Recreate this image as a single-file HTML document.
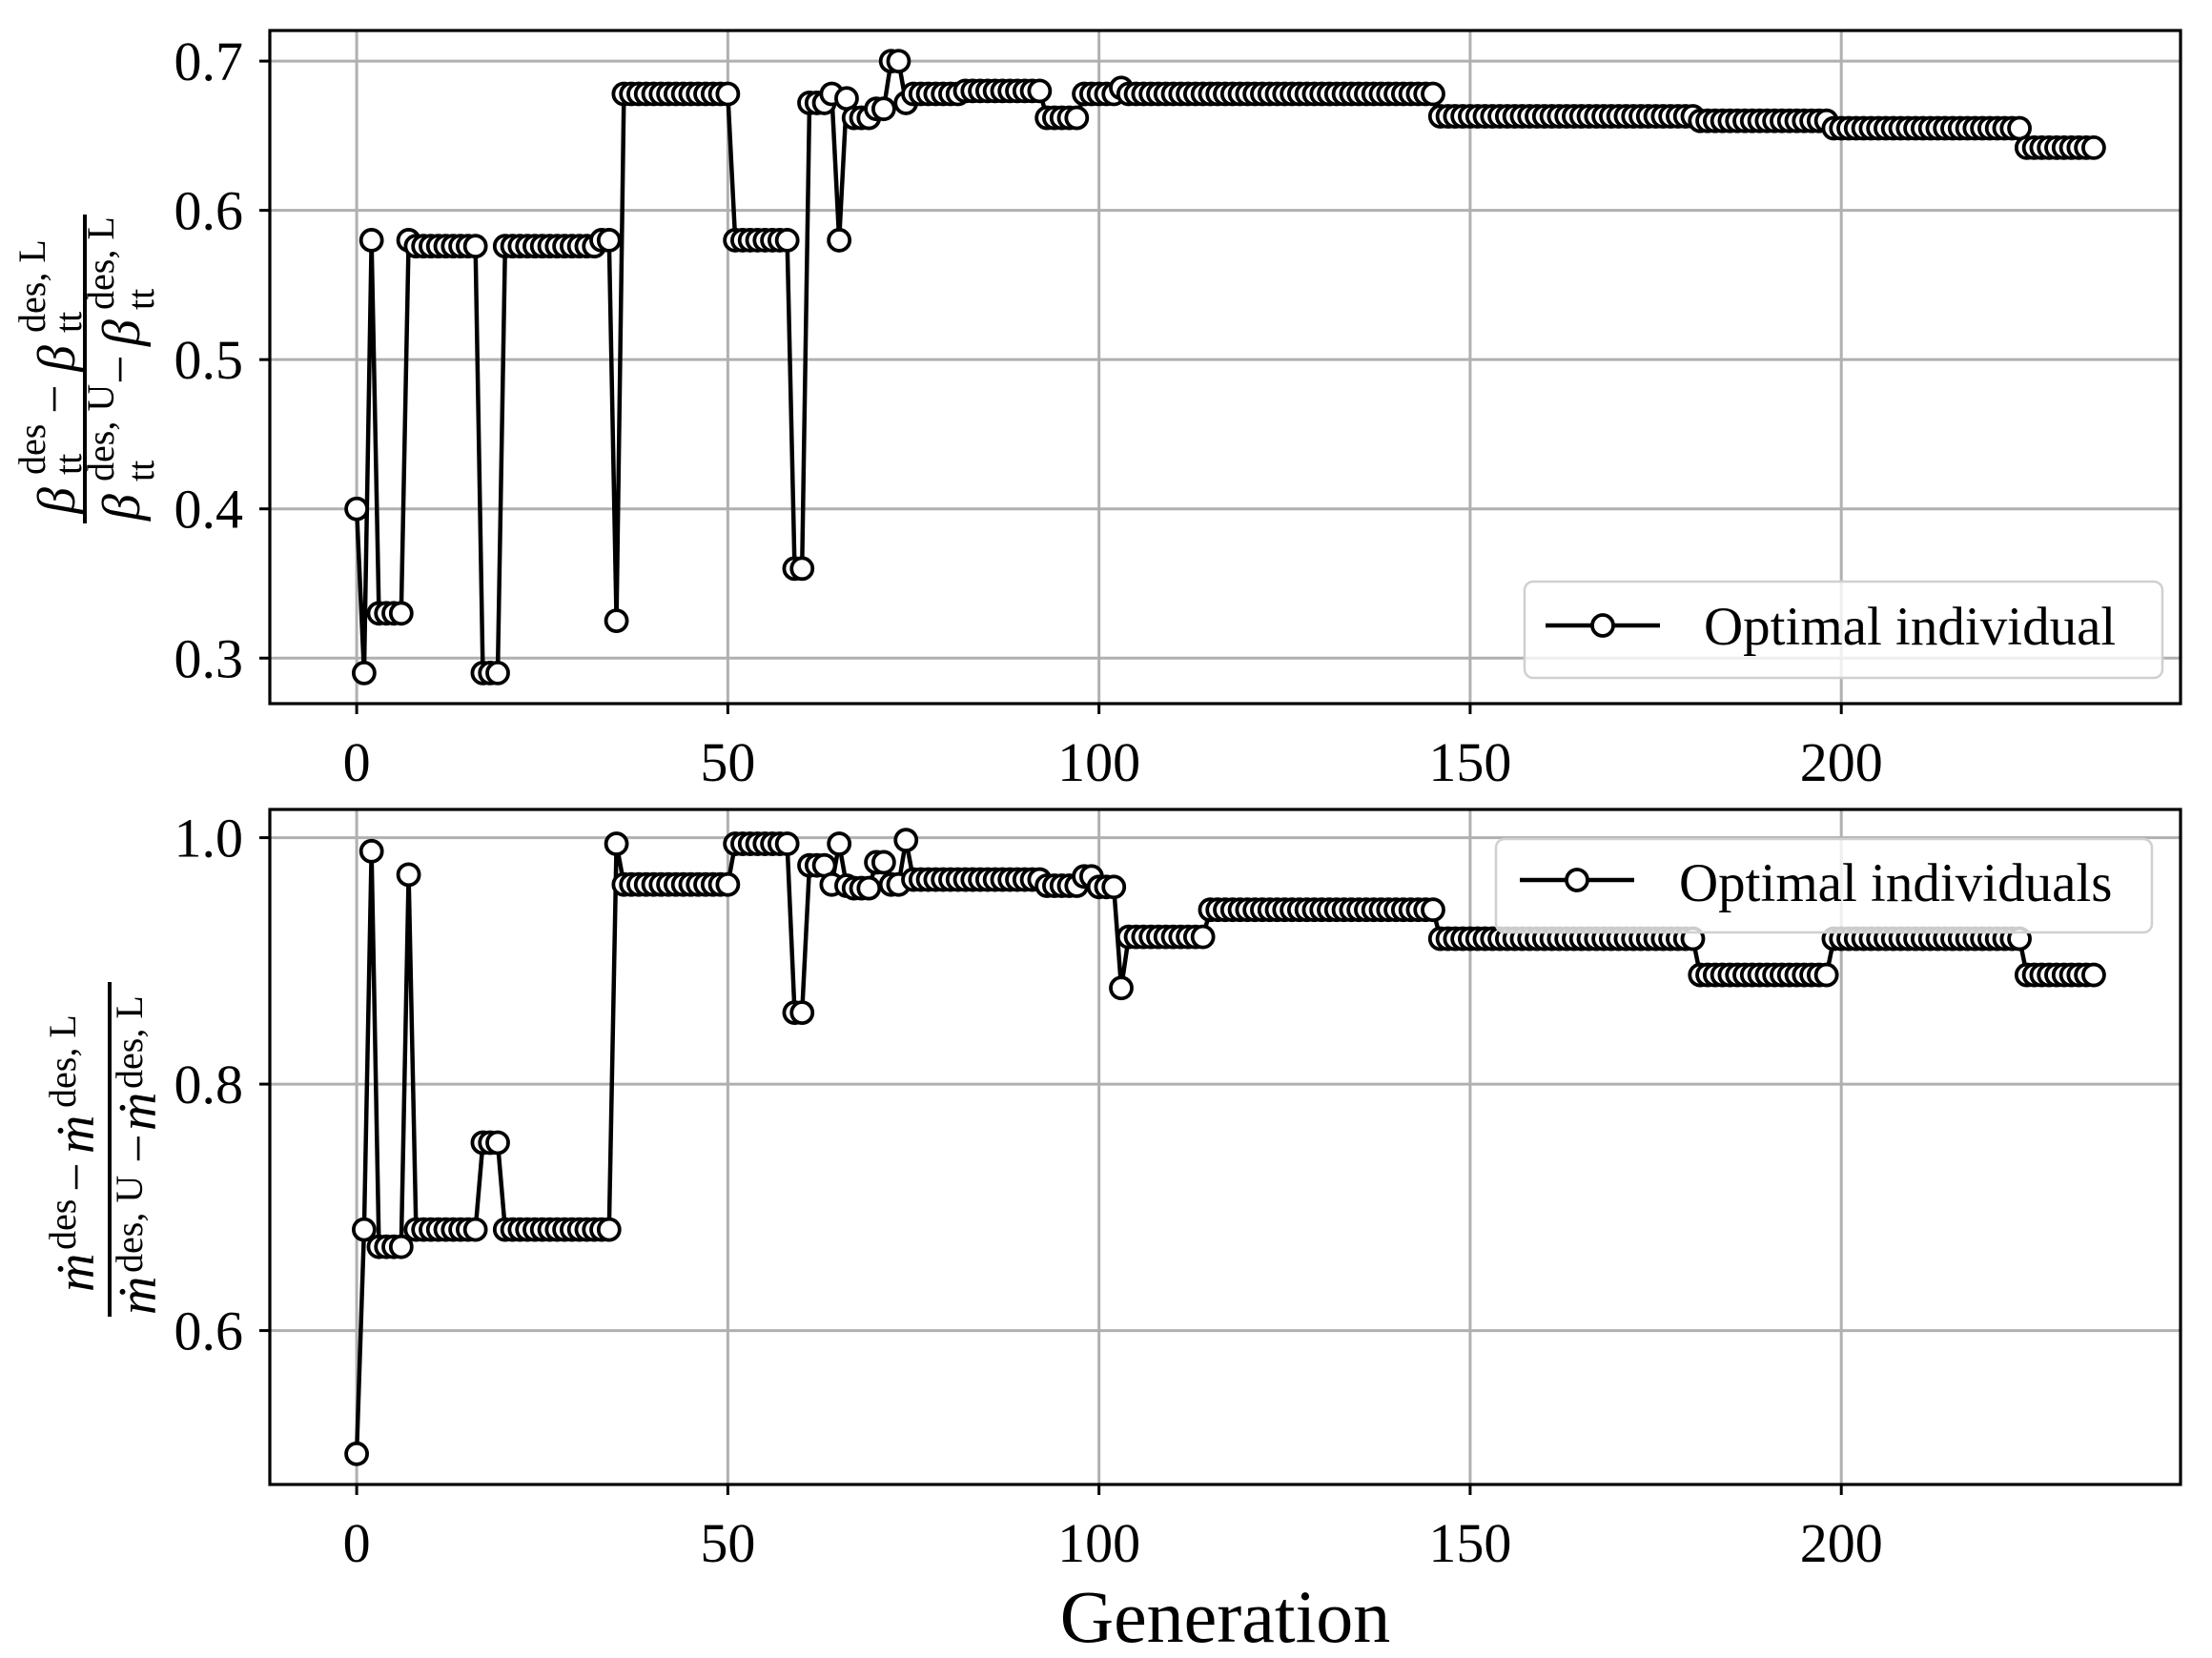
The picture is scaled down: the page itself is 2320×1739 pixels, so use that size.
<!DOCTYPE html>
<html><head><meta charset="utf-8"><style>
html,body{margin:0;padding:0;background:#fff;}
svg{display:block;font-family:"Liberation Serif",serif;}
</style></head><body>
<svg id="chart" width="2320" height="1739" viewBox="0 0 2320 1739" xmlns="http://www.w3.org/2000/svg">
<rect x="0" y="0" width="2320" height="1739" fill="#fff"/>
<g id="top-plot"></g>
<g id="bottom-plot"></g>

<g transform="translate(89,387) rotate(-90)" font-family="Liberation Serif, serif">
  <line x1="-162" y1="0" x2="162" y2="0" stroke="#000" stroke-width="4"/>
  <text x="-152" y="-11" font-size="56" font-style="italic">β</text>
  <text x="-111" y="-42" font-size="40">des</text>
  <text x="-111" y="-4" font-size="40">tt</text>
  <text x="-47" y="-14" font-size="54">−</text>
  <text x="-3" y="-11" font-size="56" font-style="italic">β</text>
  <text x="38" y="-42" font-size="40">des, L</text>
  <text x="38" y="-4" font-size="40">tt</text>
  <text x="-159" y="57" font-size="56" font-style="italic">β</text>
  <text x="-118" y="30" font-size="40">des, U</text>
  <text x="-118" y="72" font-size="40">tt</text>
  <text x="-16" y="55" font-size="54">−</text>
  <text x="24" y="57" font-size="56" font-style="italic">β</text>
  <text x="62" y="30" font-size="40">des, L</text>
  <text x="62" y="72" font-size="40">tt</text>
</g>
<g transform="translate(115,1205) rotate(-90)" font-family="Liberation Serif, serif">
  <line x1="-176" y1="0" x2="175" y2="0" stroke="#000" stroke-width="4"/>
  <text x="-150" y="-17" font-size="56" font-style="italic">ṁ</text>
  <text x="-106" y="-36" font-size="40">des</text>
  <text x="-45" y="-17" font-size="54">−</text>
  <text x="-5" y="-17" font-size="56" font-style="italic">ṁ</text>
  <text x="43" y="-36" font-size="40">des, L</text>
  <text x="-174" y="48" font-size="56" font-style="italic">ṁ</text>
  <text x="-130" y="34" font-size="40">des, U</text>
  <text x="-15" y="48" font-size="54">−</text>
  <text x="19" y="48" font-size="56" font-style="italic">ṁ</text>
  <text x="63" y="34" font-size="40">des, L</text>
</g>
<text x="1285" y="1722" font-size="78" text-anchor="middle">Generation</text>
</svg>
<script>
const topValues = [
0.40,0.29,0.58,0.33,0.33,0.33,0.33,0.58,
0.576,0.576,0.576,0.576,0.576,0.576,0.576,0.576,0.576,
0.29,0.29,0.29,
0.576,0.576,0.576,0.576,0.576,0.576,0.576,0.576,0.576,0.576,0.576,0.576,0.576,
0.58,0.58,0.325,
0.678,0.678,0.678,0.678,0.678,0.678,0.678,0.678,0.678,0.678,0.678,0.678,0.678,0.678,0.678,
0.58,0.58,0.58,0.58,0.58,0.58,0.58,0.58,
0.36,0.36,0.672,0.672,0.672,0.678,0.58,0.675,0.662,0.662,0.662,0.668,0.668,0.70,0.70,0.672,
0.678,0.678,0.678,0.678,0.678,0.678,0.678,
0.68,0.68,0.68,0.68,0.68,0.68,0.68,0.68,0.68,0.68,0.68,
0.662,0.662,0.662,0.662,0.662,
0.678,0.678,0.678,0.678,0.678,
0.682,
0.678,0.678,0.678,0.678,0.678,0.678,0.678,0.678,0.678,0.678,
0.678,0.678,0.678,0.678,0.678,0.678,0.678,0.678,0.678,0.678,
0.678,0.678,0.678,0.678,0.678,0.678,0.678,0.678,0.678,0.678,
0.678,0.678,0.678,0.678,0.678,0.678,0.678,0.678,0.678,0.678,
0.678,0.678,
0.663,0.663,0.663,0.663,0.663,0.663,0.663,0.663,0.663,0.663,
0.663,0.663,0.663,0.663,0.663,0.663,0.663,0.663,0.663,0.663,
0.663,0.663,0.663,0.663,0.663,0.663,0.663,0.663,0.663,0.663,
0.663,0.663,0.663,0.663,0.663,
0.660,0.660,0.660,0.660,0.660,0.660,0.660,0.660,0.660,0.660,
0.660,0.660,0.660,0.660,0.660,0.660,0.660,0.660,
0.655,0.655,0.655,0.655,0.655,0.655,0.655,0.655,0.655,0.655,
0.655,0.655,0.655,0.655,0.655,0.655,0.655,0.655,0.655,0.655,
0.655,0.655,0.655,0.655,0.655,0.655,
0.642,0.642,0.642,0.642,0.642,0.642,0.642,0.642,0.642,0.642
];
const bottomValues = [
0.50,0.682,0.989,0.668,0.668,0.668,0.668,0.970,
0.682,0.682,0.682,0.682,0.682,0.682,0.682,0.682,0.682,
0.7525,0.7525,0.7525,
0.682,0.682,0.682,0.682,0.682,0.682,0.682,0.682,0.682,0.682,0.682,0.682,0.682,0.682,0.682,
0.995,
0.962,0.962,0.962,0.962,0.962,0.962,0.962,0.962,0.962,0.962,0.962,0.962,0.962,0.962,0.962,
0.995,0.995,0.995,0.995,0.995,0.995,0.995,0.995,
0.858,0.858,0.9775,0.9775,0.9775,0.962,0.995,0.961,0.959,0.959,0.959,0.98,0.98,0.962,0.962,0.998,
0.966,0.966,0.966,0.966,0.966,0.966,0.966,0.966,0.966,0.966,
0.966,0.966,0.966,0.966,0.966,0.966,0.966,0.966,
0.961,0.961,0.961,0.961,0.961,
0.9685,0.9685,0.960,0.960,0.960,
0.878,
0.9195,0.9195,0.9195,0.9195,0.9195,0.9195,0.9195,0.9195,0.9195,0.9195,0.9195,
0.9415,0.9415,0.9415,0.9415,0.9415,0.9415,0.9415,0.9415,0.9415,0.9415,
0.9415,0.9415,0.9415,0.9415,0.9415,0.9415,0.9415,0.9415,0.9415,0.9415,
0.9415,0.9415,0.9415,0.9415,0.9415,0.9415,0.9415,0.9415,0.9415,0.9415,0.9415,
0.918,0.918,0.918,0.918,0.918,0.918,0.918,0.918,0.918,0.918,
0.918,0.918,0.918,0.918,0.918,0.918,0.918,0.918,0.918,0.918,
0.918,0.918,0.918,0.918,0.918,0.918,0.918,0.918,0.918,0.918,
0.918,0.918,0.918,0.918,0.918,
0.8886,0.8886,0.8886,0.8886,0.8886,0.8886,0.8886,0.8886,0.8886,0.8886,
0.8886,0.8886,0.8886,0.8886,0.8886,0.8886,0.8886,0.8886,
0.918,0.918,0.918,0.918,0.918,0.918,0.918,0.918,0.918,0.918,
0.918,0.918,0.918,0.918,0.918,0.918,0.918,0.918,0.918,0.918,
0.918,0.918,0.918,0.918,0.918,0.918,
0.8886,0.8886,0.8886,0.8886,0.8886,0.8886,0.8886,0.8886,0.8886,0.8886
];
const xTicks = [0, 50, 100, 150, 200];
const xTickLabels = ["0", "50", "100", "150", "200"];
const topYTicks = [0.3, 0.4, 0.5, 0.6, 0.7];
const topYTickLabels = ["0.3", "0.4", "0.5", "0.6", "0.7"];
const bottomYTicks = [0.6, 0.8, 1.0];
const bottomYTickLabels = ["0.6", "0.8", "1.0"];
const topLegendLabel = "Optimal individual";
const bottomLegendLabel = "Optimal individuals";

const NS = "http://www.w3.org/2000/svg";
function mk(tag, attrs, parent) {
  const e = document.createElementNS(NS, tag);
  for (const k in attrs) e.setAttribute(k, attrs[k]);
  parent.appendChild(e);
  return e;
}
function ext(a) { let mn = Infinity, mx = -Infinity; a.forEach(v => { mn = Math.min(mn, v); mx = Math.max(mx, v); }); return [mn, mx]; }

function drawPanel(g, vals, yTicks, yLabels, box, legend, prefix) {
  const n = vals.length;
  const xr = [0 - 0.05 * (n - 1), (n - 1) * 1.05];
  const [mn, mx] = ext(vals);
  const pad = (mx - mn) * 0.05;
  const yr = [mn - pad, mx + pad];
  const X = v => box.l + (v - xr[0]) / (xr[1] - xr[0]) * (box.r - box.l);
  const Y = v => box.b - (v - yr[0]) / (yr[1] - yr[0]) * (box.b - box.t);

  xTicks.forEach((t, i) => {
    const x = X(t);
    const gl = mk("line", {x1: x, x2: x, y1: box.t, y2: box.b, stroke: "#b0b0b0", "stroke-width": 3}, g);
    
    
    const tk = mk("line", {x1: x, x2: x, y1: box.b, y2: box.b + 11, stroke: "#000", "stroke-width": 3}, g);
    
    
    const tl = mk("text", {x: x, y: box.b + 81, "font-size": 58, "text-anchor": "middle"}, g);
    tl.textContent = xTickLabels[i];
    
    
  });
  yTicks.forEach((t, i) => {
    const y = Y(t);
    const gl = mk("line", {x1: box.l, x2: box.r, y1: y, y2: y, stroke: "#b0b0b0", "stroke-width": 3}, g);
    
    
    const tk = mk("line", {x1: box.l - 11, x2: box.l, y1: y, y2: y, stroke: "#000", "stroke-width": 3}, g);
    
    
    const tl = mk("text", {x: box.l - 28, y: y + 20, "font-size": 58, "text-anchor": "end"}, g);
    tl.textContent = yLabels[i];
    
    
  });

  let d = "";
  vals.forEach((v, i) => { d += (i ? "L" : "M") + X(i).toFixed(2) + "," + Y(v).toFixed(2); });
  const line = mk("path", {d: d, fill: "none", stroke: "#000", "stroke-width": 4.5, "stroke-linejoin": "round"}, g);
  
  
  vals.forEach((v, i) => {
    const c = mk("circle", {cx: X(i), cy: Y(v), r: 11, fill: "#fff", stroke: "#000", "stroke-width": 3.8}, g);
    
    
  });

  const frame = mk("rect", {x: box.l, y: box.t, width: box.r - box.l, height: box.b - box.t, fill: "none", stroke: "#000", "stroke-width": 3.2}, g);
  
  

  const lg = mk("g", {}, g);
  
  
  mk("rect", {x: legend.x, y: legend.y, width: legend.w, height: legend.h, rx: 9, fill: "#fff", "fill-opacity": 0.8, stroke: "#d0d0d0", "stroke-width": 2.5}, lg);
  const ll = mk("line", {x1: legend.lx, x2: legend.lx + 120, y1: legend.ly, y2: legend.ly, stroke: "#000", "stroke-width": 4.5}, lg);
  
  
  const lm = mk("circle", {cx: legend.lx + 60, cy: legend.ly, r: 11, fill: "#fff", stroke: "#000", "stroke-width": 3.8}, lg);
  
  
  const lt = mk("text", {x: legend.tx, y: legend.ty, "font-size": 57}, lg);
  lt.textContent = legend.label;
  
  
}

drawPanel(document.getElementById("top-plot"), topValues, topYTicks, topYTickLabels,
  {l: 283, r: 2287, t: 32, b: 738},
  {x: 1599, y: 610, w: 669, h: 101, lx: 1621, ly: 656, tx: 1787, ty: 676, label: topLegendLabel}, "top");
drawPanel(document.getElementById("bottom-plot"), bottomValues, bottomYTicks, bottomYTickLabels,
  {l: 283, r: 2287, t: 849, b: 1557},
  {x: 1569, y: 880, w: 688, h: 98, lx: 1594, ly: 923, tx: 1761, ty: 945, label: bottomLegendLabel}, "bottom");
</script>
</body></html>
